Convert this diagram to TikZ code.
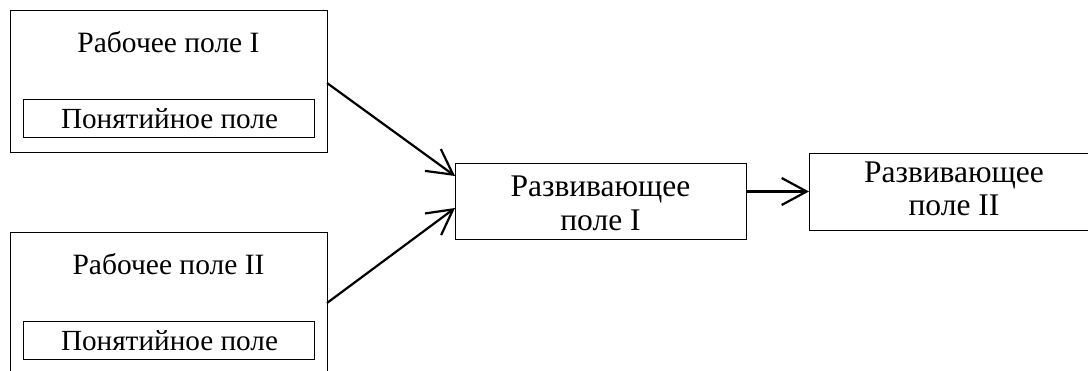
\documentclass[tikz,border=0pt]{standalone}
\usepackage{fontspec}
\setmainfont{Liberation Serif}
\usetikzlibrary{arrows.meta}
\begin{document}
\begin{tikzpicture}[x=1pt,y=-1pt,
  box/.style={draw=black,line width=1pt,inner sep=0pt,outer sep=0pt},
  lbl/.style={inner sep=0pt,anchor=base,font=\fontsize{29.5}{34}\selectfont},
  clbl/.style={inner sep=0pt,anchor=base,font=\fontsize{29.2}{34}\selectfont},
  dlbl/.style={inner sep=0pt,anchor=base,font=\fontsize{31.5}{34}\selectfont},
  conn/.style={line width=2.2pt,-{Straight Barb[length=25pt,width=27pt,line width=2.2pt]}}]
\useasboundingbox (0,0) rectangle (1088,370);
\clip (0,0) rectangle (1088,370);
% left boxes
\node[box,minimum width=317pt,minimum height=142pt] (w1) at (168.5,81) {};
\node[lbl] (t1) at (168.5,52) {Рабочее поле I};
\node[box,minimum width=291pt,minimum height=38pt] (c1) at (168.5,118) {};
\node[clbl] (ct1) at (169.5,128) {Понятийное поле};
\node[box,minimum width=317pt,minimum height=142pt] (w2) at (168.5,303) {};
\node[lbl] (t2) at (168.5,274) {Рабочее поле II};
\node[box,minimum width=291pt,minimum height=38pt] (c2) at (168.5,340) {};
\node[clbl] (ct2) at (169.5,350) {Понятийное поле};
% development boxes
\node[box,minimum width=291pt,minimum height=76pt] (d1) at (600.5,201) {};
\node[dlbl] (d1a) at (600.5,196) {Развивающее};
\node[dlbl] (d1b) at (600.5,230) {поле I};
\node[box,minimum width=294pt,minimum height=77pt] (d2) at (956,191.5) {};
\node[dlbl] (d2a) at (954,182) {Развивающее};
\node[dlbl] (d2b) at (954,215) {поле II};
% connectors
\draw[conn] ([yshift=-2pt]w1.east) -- ([yshift=25pt]d1.west);
\draw[conn] (w2.east) -- ([yshift=-7pt]d1.west);
\draw[conn] (d1.east |- d2.west) -- (d2.west);
\end{tikzpicture}
\end{document}
